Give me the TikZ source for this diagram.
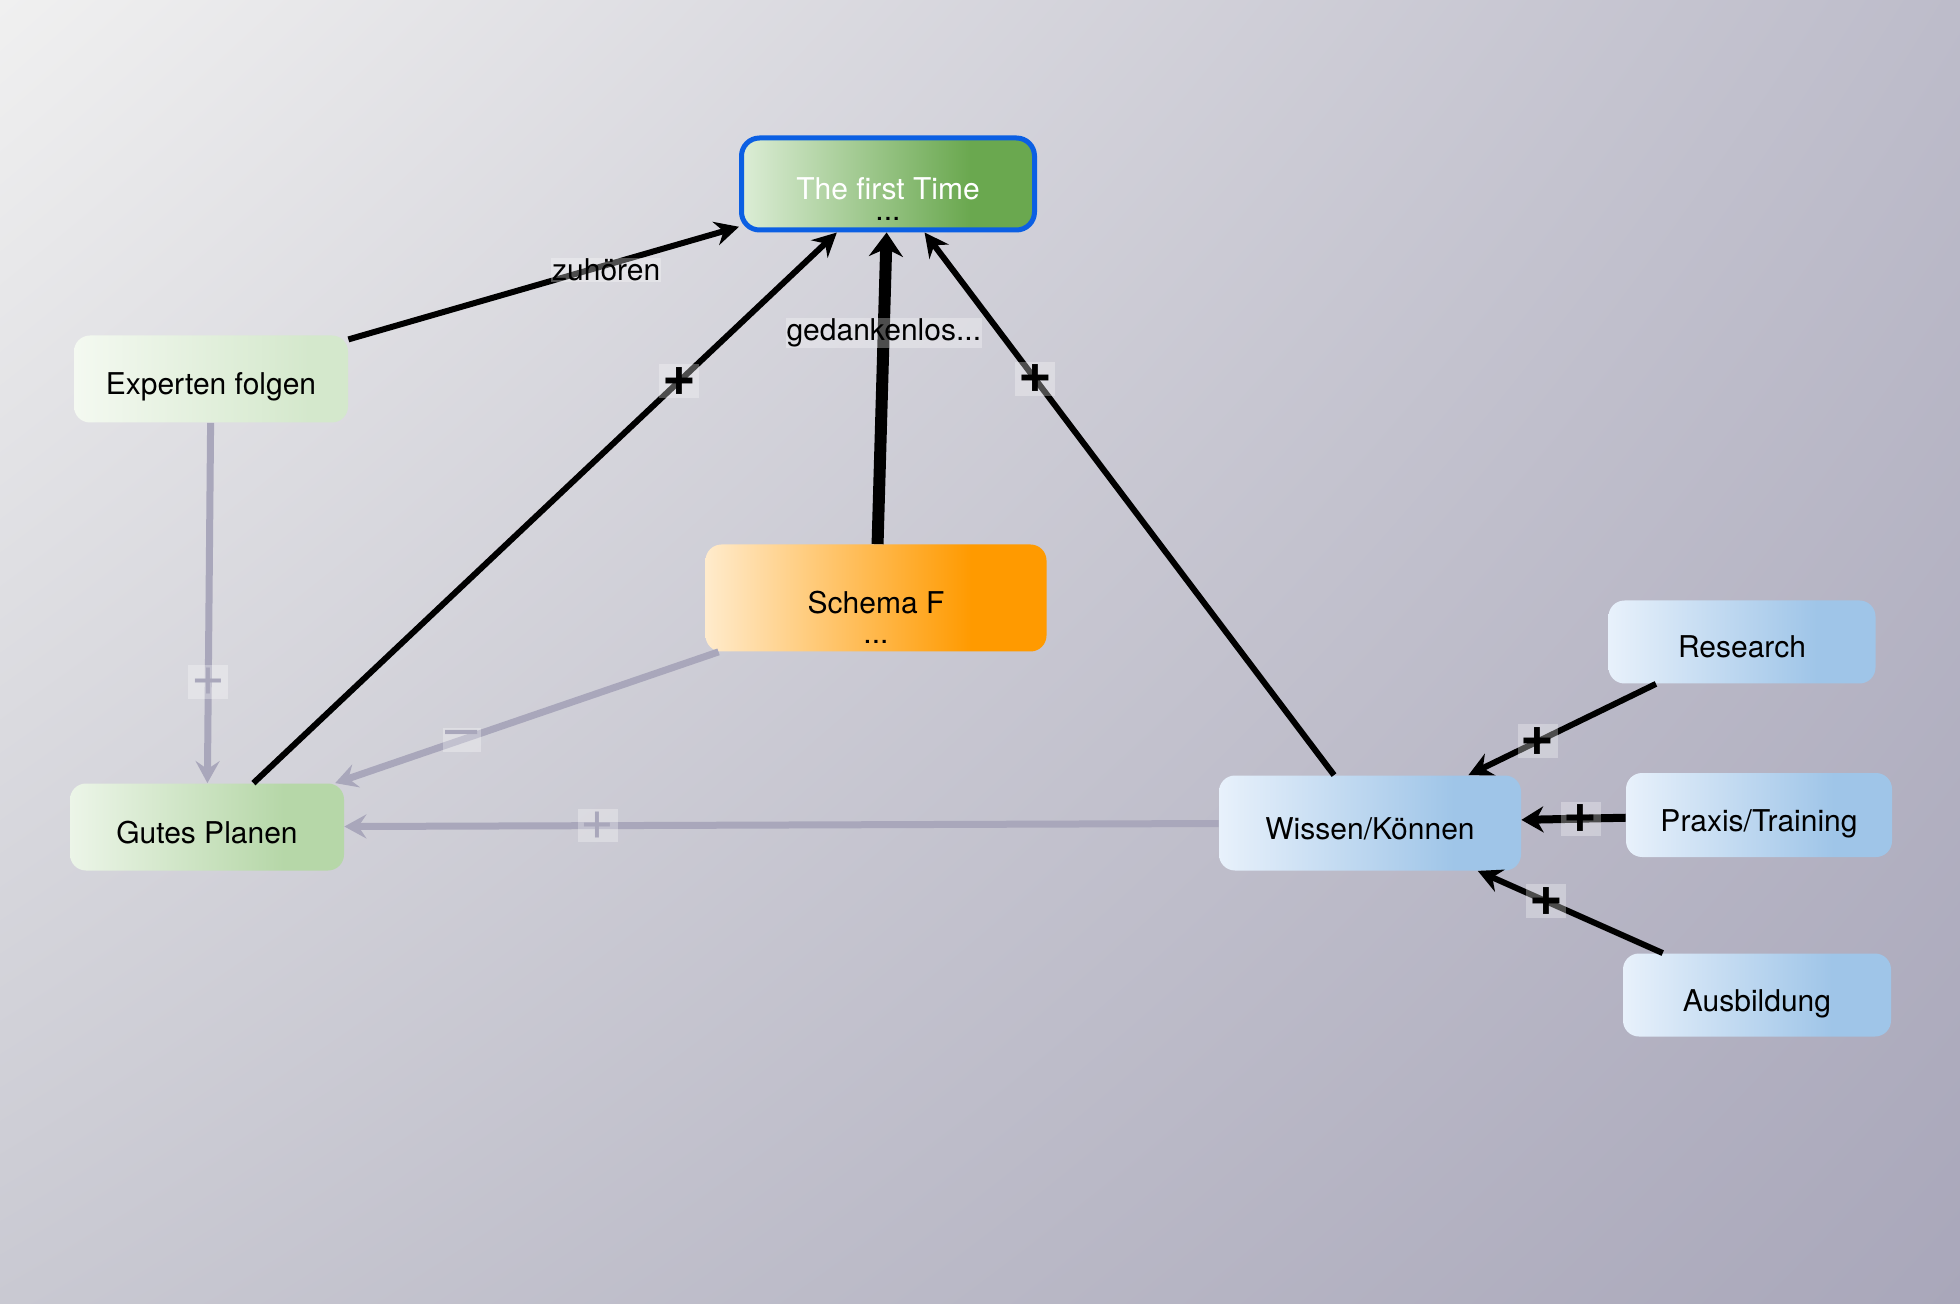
\documentclass[tikz,border=0pt]{standalone}
\usepackage{fontspec}
\setmainfont{TeX Gyre Heros}
\usetikzlibrary{arrows.meta,shadings}
\definecolor{bgTL}{HTML}{F0F0F0}
\definecolor{bgTR}{HTML}{BDBCCA}
\definecolor{bgBL}{HTML}{C9C9D2}
\definecolor{bgBR}{HTML}{A9A7BA}
\definecolor{firstA}{HTML}{DCEDD6}
\definecolor{firstB}{HTML}{6AA84F}
\definecolor{firstBorder}{HTML}{0B5FE3}
\definecolor{expA}{HTML}{F4F9F1}
\definecolor{expB}{HTML}{D4E8CC}
\definecolor{gutA}{HTML}{ECF5E8}
\definecolor{gutB}{HTML}{B6D7A8}
\definecolor{schA}{HTML}{FFEBCC}
\definecolor{schB}{HTML}{FF9A00}
\definecolor{bluA}{HTML}{E8F1FB}
\definecolor{bluB}{HTML}{9FC5E8}
\definecolor{edgegray}{HTML}{A9A7BB}
\pgfdeclarehorizontalshading{shFirst}{100bp}{color(0bp)=(firstA); color(25bp)=(firstA); color(64bp)=(firstB); color(100bp)=(firstB)}
\pgfdeclarehorizontalshading{shExp}{100bp}{color(0bp)=(expA); color(25bp)=(expA); color(68bp)=(expB); color(100bp)=(expB)}
\pgfdeclarehorizontalshading{shGut}{100bp}{color(0bp)=(gutA); color(25bp)=(gutA); color(64bp)=(gutB); color(100bp)=(gutB)}
\pgfdeclarehorizontalshading{shSch}{100bp}{color(0bp)=(schA); color(25bp)=(schA); color(64bp)=(schB); color(100bp)=(schB)}
\pgfdeclarehorizontalshading{shBlu}{100bp}{color(0bp)=(bluA); color(25bp)=(bluA); color(64bp)=(bluB); color(100bp)=(bluB)}
\begin{document}
\begin{tikzpicture}[x=0.5pt,y=-0.5pt,
  box/.style={rounded corners=8pt, shade, inner sep=0pt, align=center,
    font=\fontsize{15}{18}\selectfont},
  one/.style={text height=16pt, text depth=0pt},
  blk/.style={line width=3pt, -{Stealth[length=12pt,width=12pt,inset=4pt]}},
  thk/.style={line width=6pt, -{Stealth[length=12pt,width=17pt,inset=4pt]}},
  mid/.style={line width=4pt, -{Stealth[length=11pt,width=13pt,inset=3.5pt]}},
  gry/.style={draw=edgegray, line width=3.5pt, -{Stealth[length=11pt,width=12pt,inset=4pt]}},
  lab/.style={fill=white, fill opacity=0.3, text opacity=1, inner sep=0.5pt,
    font=\fontsize{15}{18}\selectfont},
  plus/.style={fill=white, fill opacity=0.3, text opacity=1, inner sep=1.5pt,
    font=\fontsize{29}{29}\selectfont\bfseries},
  gplus/.style={fill=white, fill opacity=0.3, text opacity=1, inner sep=1.5pt,
    text=edgegray, font=\fontsize{29}{29}\selectfont}
]
\useasboundingbox (0,0) rectangle (1960,1304);
\shade[upper left=bgTL, upper right=bgTR, lower left=bgBL, lower right=bgBR] (0,0) rectangle (1960,1304);

% nodes
\node[box, shading=shFirst, draw=firstBorder, line width=2.5pt, rounded corners=9pt,
  minimum width=146.5pt, minimum height=46pt]
  (first) at (888,184) {\rule{0pt}{26.5pt}\textcolor{white}{The first Time}\\[-7.5pt]...};
\node[box, one, shading=shExp, minimum width=137pt, minimum height=43.5pt] (expert) at (211,379) {Experten folgen};
\node[box, one, shading=shGut, minimum width=137pt, minimum height=43.5pt] (gutes) at (207,827) {Gutes Planen};
\node[box, shading=shSch, minimum width=170.5pt, minimum height=53.5pt]
  (schema) at (876,598) {\rule{0pt}{31pt}Schema F\\[-3pt]...};
\node[box, one, shading=shBlu, minimum width=151pt, minimum height=47.5pt] (wissen) at (1370,823) {Wissen/Können};
\node[box, one, shading=shBlu, minimum width=133.5pt, minimum height=41.5pt] (research) at (1742,642) {Research};
\node[box, one, shading=shBlu, minimum width=133pt, minimum height=42pt] (praxis) at (1759,815) {Praxis/Training};
\node[box, one, shading=shBlu, minimum width=134pt, minimum height=41.5pt] (ausb) at (1757,995) {Ausbildung};

% edges
\draw[blk] (expert) -- node[lab, pos=0.66, yshift=-2.5pt] {zuhören} (first);
\draw[blk] (gutes) -- node[plus, pos=0.73] {+} (first);
\draw[thk] (schema) -- node[lab, pos=0.69, yshift=-2pt] {gedankenlos...} (first);
\draw[blk] (wissen) -- node[plus, pos=0.73] {+} (first);
\draw[gry] (expert) -- node[gplus, pos=0.72] {+} (gutes);
\draw[gry] (schema) -- node[gplus, pos=0.67] {–} (gutes);
\draw[gry] (wissen) -- node[gplus, pos=0.71] {+} (gutes);
\draw[blk] (research) -- node[plus, pos=0.63] {+} (wissen);
\draw[mid] (praxis) -- node[plus, pos=0.43] {+} (wissen);
\draw[blk] (ausb) -- node[plus, pos=0.63] {+} (wissen);
\end{tikzpicture}
\end{document}
